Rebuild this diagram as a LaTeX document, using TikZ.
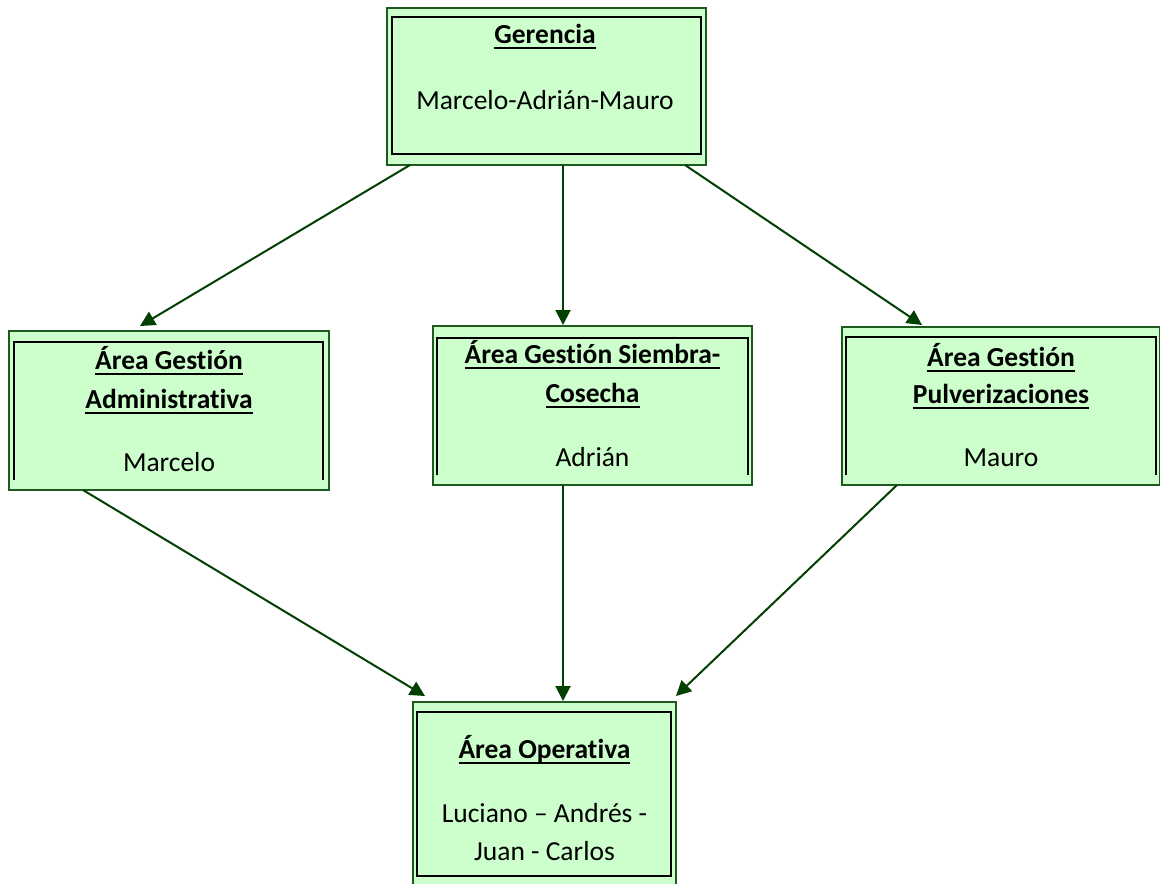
\documentclass[tikz,border=0pt]{standalone}
\usepackage{fontspec}
\setmainfont{Carlito}[Ligatures=NoCommon]
\usetikzlibrary{arrows.meta}
\definecolor{boxfill}{RGB}{204,255,204}
\definecolor{boxedge}{RGB}{30,90,30}
\definecolor{arrowc}{RGB}{0,64,0}
\newcommand\ulx[1]{\setbox0\hbox{#1}\rlap{\rule[-5.5pt]{\wd0}{2pt}}\box0}
\tikzset{
  outerbox/.style={draw=boxedge, fill=boxfill, line width=2.5pt, inner sep=0pt, outer sep=0pt},
  innerline/.style={draw=black, line width=2pt},
  txt/.style={anchor=base, inner sep=0pt, font=\fontsize{27.5}{33}\selectfont},
  ttl/.style={txt, font=\fontsize{27.5}{33}\selectfont\bfseries},
  conn/.style={draw=arrowc, line width=2pt, -{Triangle[length=15pt,width=15pt]}}
}
\begin{document}
\begin{tikzpicture}[x=1pt,y=-1pt]
\clip (0,0) rectangle (1160,884);
\fill[white] (0,0) rectangle (1160,884);
% outer boxes
\node[outerbox, minimum width=319pt, minimum height=157pt] (g) at (546.5,86.5) {};
\node[outerbox, minimum width=320pt, minimum height=159pt] (adm) at (169,410.5) {};
\node[outerbox, minimum width=319pt, minimum height=159pt] (sie) at (592.5,405.5) {};
\node[outerbox, minimum width=318pt, minimum height=158pt] (pul) at (1001,406) {};
\node[outerbox, minimum width=263pt, minimum height=190pt] (op) at (544.5,797) {};
% inner frames
\draw[innerline] (392,17) rectangle (701,154);
\draw[innerline] (14,480) -- (14,342) -- (323,342) -- (323,480);
\draw[innerline] (437,475) -- (437,338) -- (748,338) -- (748,475);
\draw[innerline] (846,475) -- (846,337) -- (1156,337) -- (1156,475);
\draw[innerline] (417,712) rectangle (671,876);
% texts
\node[ttl] (g1) at (545,43) {\ulx{Gerencia}};
\node[txt] (g2) at (545,109) {Marcelo-Adrián-Mauro};
\node[ttl] (a1) at (169,369) {\ulx{Área Gestión}};
\node[ttl] (a2) at (169,408) {\ulx{Administrativa}};
\node[txt] (a3) at (169,471) {Marcelo};
\node[ttl] (s1) at (592.5,363) {\ulx{Área Gestión Siembra-}};
\node[ttl] (s2) at (592.5,402) {\ulx{Cosecha}};
\node[txt] (s3) at (592.5,466) {Adrián};
\node[ttl] (p1) at (1001,366) {\ulx{Área Gestión}};
\node[ttl] (p2) at (1001,403) {\ulx{Pulverizaciones}};
\node[txt] (p3) at (1001,466) {Mauro};
\node[ttl] (o1) at (544.5,758) {\ulx{Área Operativa}};
\node[txt] (o2) at (544.5,822) {Luciano – Andrés -};
\node[txt] (o3) at (544.5,860) {Juan - Carlos};
% connectors
\draw[conn] ([xshift=23pt]g.south west) -- ([xshift=131pt,yshift=5pt]adm.north west);
\draw[conn] ([xshift=16.5pt]g.south) -- ([xshift=-29.5pt,yshift=1pt]sie.north);
\draw[conn] ([xshift=-21pt]g.south east) -- ([xshift=80pt,yshift=2pt]pul.north west);
\draw[conn] ([xshift=74pt]adm.south west) -- ([xshift=12pt,yshift=6pt]op.north west);
\draw[conn] ([xshift=-29.5pt]sie.south) -- ([xshift=18.5pt,yshift=1pt]op.north);
\draw[conn] ([xshift=55pt]pul.south west) -- ([yshift=6pt]op.north east);
\end{tikzpicture}
\end{document}
